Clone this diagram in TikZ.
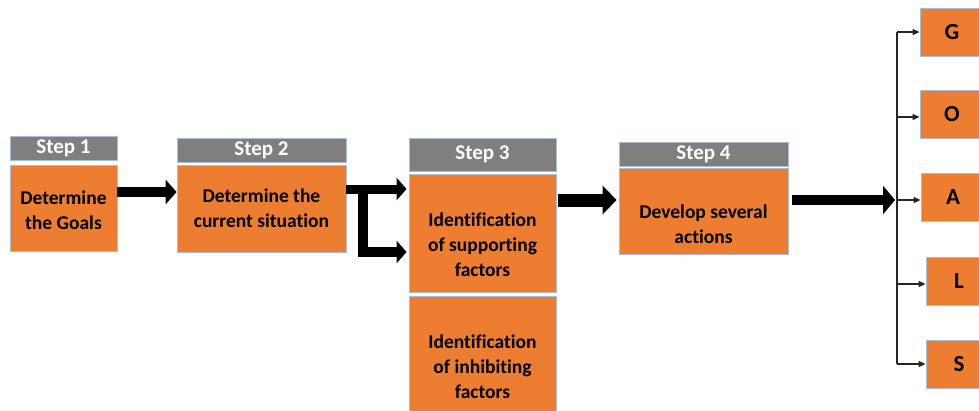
\documentclass[tikz,border=0pt]{standalone}
\usepackage{fontspec}
\setmainfont[Ligatures=NoCommon]{Carlito}
\usetikzlibrary{arrows.meta}
\definecolor{boxorange}{HTML}{ED7D31}
\definecolor{hdrgray}{HTML}{7F7F7F}
\definecolor{edgeblue}{RGB}{170,190,215}
\definecolor{linegray}{HTML}{262626}
\tikzset{
  hdr/.style={fill=hdrgray, draw=edgeblue, line width=0.8pt, inner sep=0pt,
    text=white, font=\fontsize{21}{25}\selectfont\bfseries},
  obox/.style={fill=boxorange, draw=edgeblue, line width=0.8pt, inner sep=0pt},
  btext/.style={align=center, inner sep=0pt, text=black, font=\fontsize{19.5}{25}\selectfont\bfseries},
  letter/.style={obox, font=\fontsize{23}{27}\selectfont\bfseries, text=black},
  fatarrow/.style={line width=#1, line cap=butt, draw=black},
  thin/.style={line width=1.4pt, draw=linegray, -{Triangle[length=7pt,width=6pt]}},
}
\begin{document}
\begin{tikzpicture}[x=1pt,y=-1pt]
\useasboundingbox (0,0) rectangle (979,410);
\clip (0,0) rectangle (979,410);
% Step 1
\node[hdr, minimum width=107, minimum height=24] (h1) at (63.5,148.5) {Step 1};
\node[obox, minimum width=107, minimum height=86] (b1) at (63.5,208.5) {};
\node[btext] (t1) at (63.5,210) {Determine\\the Goals};
% Step 2
\node[hdr, minimum width=169, minimum height=24] (h2) at (261.5,150) {Step 2};
\node[obox, minimum width=169, minimum height=87] (b2) at (261.5,209) {};
\node[btext] (t2) at (261.5,208) {Determine the\\current situation};
% Step 3
\node[hdr, minimum width=147, minimum height=33] (h3) at (482.5,154.5) {Step 3};
\node[obox, minimum width=147, minimum height=118] (b3a) at (482.5,233) {};
\node[btext] (t3a) at (482.5,245) {Identification\\of supporting\\factors};
\node[obox, minimum width=147, minimum height=142] (b3b) at (482.5,367) {};
\node[btext] (t3b) at (482.5,367) {Identification\\of inhibiting\\factors};
% Step 4
\node[hdr, minimum width=169, minimum height=24] (h4) at (703.5,154) {Step 4};
\node[obox, minimum width=169, minimum height=86] (b4) at (703.5,211) {};
\node[btext] (t4) at (703.5,224) {Develop several\\actions};
% GOALS
\node[letter, minimum width=64, minimum height=48] (G) at (952,32.5) {G};
\node[letter, minimum width=64, minimum height=48] (O) at (952,114) {O};
\node[letter, minimum width=64, minimum height=48] (A) at (953,197.5) {A};
\node[letter, minimum width=66, minimum height=48] (L) at (959,281) {L};
\node[letter, minimum width=66, minimum height=48] (S) at (959,364) {S};
% connectors
\draw[fatarrow=10pt, -{Triangle[length=11pt,width=24pt]}] (b1.east |- 0,192) -- (b2.west |- 0,192);
\draw[fatarrow=9pt, -{Triangle[length=10pt,width=22pt]}] (b2.east |- 0,189) -- ([xshift=-2pt]b3a.west |- 0,189);
\coordinate (brk) at (363,193);
\draw[fatarrow=10pt, line join=miter, -{Triangle[length=10pt,width=22pt]}] (brk) |- ([xshift=-2pt]b3a.west |- 0,252);
\draw[fatarrow=13pt, -{Triangle[length=14pt,width=28pt]}] ([xshift=2pt]b3a.east |- 0,200) -- ([xshift=-2pt]b4.west |- 0,200);
\coordinate (vtop) at (897,32);
\coordinate (vbot) at (897,364);
\draw[fatarrow=10pt, -{Triangle[length=12pt,width=28pt]}] ([xshift=4pt]b4.east |- 0,200) -- ([xshift=-2pt]vtop |- 0,200);
\draw[line width=1.4pt, draw=linegray] (vtop) -- (vbot);
\draw[thin] (vtop) -- (G.west |- vtop);
\draw[thin] (vtop |- 0,117) -- (O.west |- 0,117);
\draw[thin] (vtop |- 0,200) -- (A.west |- 0,200);
\draw[thin] (vtop |- 0,284) -- (L.west |- 0,284);
\draw[thin] (vbot) -- (S.west |- vbot);
\end{tikzpicture}
\end{document}
